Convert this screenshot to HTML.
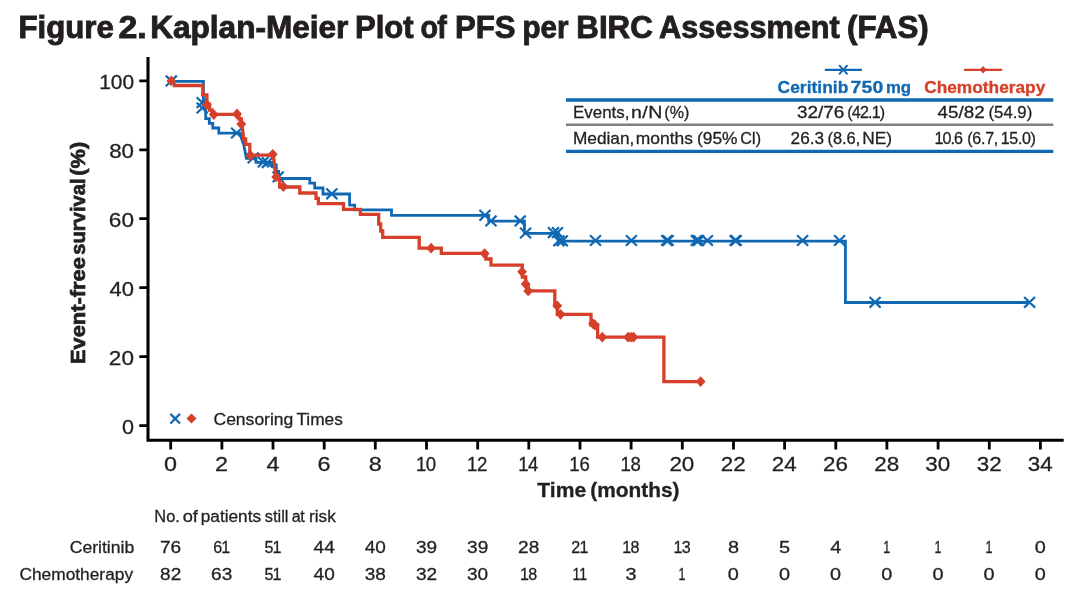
<!DOCTYPE html>
<html lang="en"><head><meta charset="utf-8"><title>Figure 2. Kaplan-Meier Plot of PFS per BIRC Assessment (FAS)</title>
<style>
html,body{margin:0;padding:0;background:#fff;}
body{width:1080px;height:591px;overflow:hidden;}
svg{display:block;font-family:"Liberation Sans", sans-serif;fill:#231f20;}
.r{stroke:#231f20;stroke-width:0.3px;}
</style></head><body>
<svg width="1080" height="591" viewBox="0 0 1080 591">
<rect width="1080" height="591" fill="#fff"/>
<path d="M148.0,57 V440.3 H1063.7" fill="none" stroke="#000" stroke-width="3.1" stroke-linejoin="miter"/>
<path d="M139.3,425.6 H148.0 M139.3,356.6 H148.0 M139.3,287.7 H148.0 M139.3,218.7 H148.0 M139.3,149.8 H148.0 M139.3,80.8 H148.0 M170.7,440.3 V449.6 M221.9,440.3 V449.6 M273.0,440.3 V449.6 M324.2,440.3 V449.6 M375.3,440.3 V449.6 M426.5,440.3 V449.6 M477.7,440.3 V449.6 M528.8,440.3 V449.6 M580.0,440.3 V449.6 M631.1,440.3 V449.6 M682.3,440.3 V449.6 M733.5,440.3 V449.6 M784.6,440.3 V449.6 M835.8,440.3 V449.6 M886.9,440.3 V449.6 M938.1,440.3 V449.6 M989.3,440.3 V449.6 M1040.4,440.3 V449.6" fill="none" stroke="#000" stroke-width="2.8"/>
<path d="M171.3,81.4 H203.4 V105 L205.7,110.3 V118.6 H209.3 V123.3 H212.8 V128 H218.8 V133.1 H240.2 L241.7,139 L243.7,144.4 L246.4,158.3 H256 V162.4 H272 V165 H276.3 V171.5 H278.6 V178.5 H309.8 V183.2 H314.7 V188 H323 V194 H349.6 V205.2 H354.7 V209.9 H391.5 V215.4 H488.7 V221.2 H524.4 V233.4 H558.2 V241.2 H845.4 V302.5 H1029.6" fill="none" stroke="#1068b3" stroke-width="2.8" stroke-linejoin="miter"/>
<path d="M165.8,75.6 L176.8,86.2 M165.8,86.2 L176.8,75.6 M196.7,97.3 L207.7,107.9 M196.7,107.9 L207.7,97.3 M196.7,102.6 L207.7,113.2 M196.7,113.2 L207.7,102.6 M231.1,127.7 L242.1,138.3 M231.1,138.3 L242.1,127.7 M247.7,152.6 L258.7,163.2 M247.7,163.2 L258.7,152.6 M257.8,156.7 L268.8,167.3 M257.8,167.3 L268.8,156.7 M261.9,157.3 L272.9,167.9 M261.9,167.9 L272.9,157.3 M272.7,171.6 L283.7,182.2 M272.7,182.2 L283.7,171.6 M326.3,188.5 L337.3,199.1 M326.3,199.1 L337.3,188.5 M479.5,210.0 L490.5,220.6 M479.5,220.6 L490.5,210.0 M485.5,215.6 L496.5,226.2 M485.5,226.2 L496.5,215.6 M514.7,215.6 L525.7,226.2 M514.7,226.2 L525.7,215.6 M520.1,227.7 L531.1,238.3 M520.1,238.3 L531.1,227.7 M548.0,227.3 L559.0,237.9 M548.0,237.9 L559.0,227.3 M552.0,227.3 L563.0,237.9 M552.0,237.9 L563.0,227.3 M553.4,235.5 L564.4,246.1 M553.4,246.1 L564.4,235.5 M556.8,235.5 L567.8,246.1 M556.8,246.1 L567.8,235.5 M590.0,235.2 L601.0,245.8 M590.0,245.8 L601.0,235.2 M625.9,235.2 L636.9,245.8 M625.9,245.8 L636.9,235.2 M661.2,235.2 L672.2,245.8 M661.2,245.8 L672.2,235.2 M662.6,235.2 L673.6,245.8 M662.6,245.8 L673.6,235.2 M690.8,235.2 L701.8,245.8 M690.8,245.8 L701.8,235.2 M692.0,235.2 L703.0,245.8 M692.0,245.8 L703.0,235.2 M693.2,235.2 L704.2,245.8 M693.2,245.8 L704.2,235.2 M701.9,235.2 L712.9,245.8 M701.9,245.8 L712.9,235.2 M729.6,235.2 L740.6,245.8 M729.6,245.8 L740.6,235.2 M730.7,235.2 L741.7,245.8 M730.7,245.8 L741.7,235.2 M797.1,235.2 L808.1,245.8 M797.1,245.8 L808.1,235.2 M834.1,235.2 L845.1,245.8 M834.1,245.8 L845.1,235.2 M869.6,297.0 L880.6,307.6 M869.6,307.6 L880.6,297.0 M1024.1,297.0 L1035.1,307.6 M1024.1,307.6 L1035.1,297.0" fill="none" stroke="#1068b3" stroke-width="2.2"/>
<path d="M172.8,85.5 H202.8 V94.9 H206.9 V104.5 H209.5 V110 H212 V114.4 H237 H239 V119 H241.3 V124.1 L242.3,126.8 L243.7,139 H245.7 V144.4 H249.8 V155.2 H272.8 L273.5,156.5 L275.5,174.2 L279.6,179.6 V187 H299.8 V193 H316 V198.4 H318.4 V203.6 H343.5 V209.3 H360.4 V214.4 H378.7 V224 H380.7 V231 H382.7 V237.3 H419.2 V248.2 H441.3 V253.4 H486 V259 H491 V265.1 H522.3 V277 H525.7 V286 H528.2 V290.9 H554.8 V305.8 H557.3 V314.4 H591 V325 H597.6 V337.2 H663.9 V381.6 H700.6" fill="none" stroke="#d63f29" stroke-width="3.3" stroke-linejoin="miter"/>
<path d="M171.3,75.5 L176.2,80.9 L171.3,86.3 L166.4,80.9 Z M206.9,99.2 L211.8,104.6 L206.9,110.0 L202.0,104.6 Z M213.8,109.2 L218.7,114.6 L213.8,120.0 L208.9,114.6 Z M237.0,108.6 L241.9,114.0 L237.0,119.4 L232.1,114.0 Z M241.3,118.7 L246.2,124.1 L241.3,129.5 L236.4,124.1 Z M250.5,150.1 L255.4,155.5 L250.5,160.9 L245.6,155.5 Z M272.8,148.9 L277.7,154.3 L272.8,159.7 L267.9,154.3 Z M276.2,171.5 L281.1,176.9 L276.2,182.3 L271.3,176.9 Z M283.4,181.2 L288.3,186.6 L283.4,192.0 L278.5,186.6 Z M431.1,242.8 L436.0,248.2 L431.1,253.6 L426.2,248.2 Z M484.6,248.2 L489.5,253.6 L484.6,259.0 L479.7,253.6 Z M522.1,266.4 L527.0,271.8 L522.1,277.2 L517.2,271.8 Z M525.7,278.6 L530.6,284.0 L525.7,289.4 L520.8,284.0 Z M528.2,285.5 L533.1,290.9 L528.2,296.3 L523.3,290.9 Z M557.3,300.4 L562.2,305.8 L557.3,311.2 L552.4,305.8 Z M560.5,308.9 L565.4,314.3 L560.5,319.7 L555.6,314.3 Z M592.9,318.3 L597.8,323.7 L592.9,329.1 L588.0,323.7 Z M594.9,319.6 L599.8,325.0 L594.9,330.4 L590.0,325.0 Z M602.3,331.8 L607.2,337.2 L602.3,342.6 L597.4,337.2 Z M628.1,331.8 L633.0,337.2 L628.1,342.6 L623.2,337.2 Z M630.8,331.8 L635.7,337.2 L630.8,342.6 L625.9,337.2 Z M633.5,331.8 L638.4,337.2 L633.5,342.6 L628.6,337.2 Z M700.6,376.2 L705.5,381.6 L700.6,387.0 L695.7,381.6 Z" fill="#d63f29" stroke="none"/>
<path d="M170.4,413.9 L180.0,423.5 M170.4,423.5 L180.0,413.9" fill="none" stroke="#1068b3" stroke-width="2.2"/>
<path d="M191.5,413.5 L196.5,418.5 L191.5,423.5 L186.5,418.5 Z" fill="#d63f29"/>
<path d="M566,100 H1053.3 M566,151.4 H1053.3" stroke="#1068b3" stroke-width="3.3" fill="none"/>
<path d="M566,124.7 H1053.3" stroke="#808080" stroke-width="2.6" fill="none"/>
<path d="M824.8,69.8 H861.9" stroke="#1068b3" stroke-width="2.2" fill="none"/>
<path d="M839.1,65.2 L847.5,74.4 M839.1,74.4 L847.5,65.2" stroke="#1068b3" stroke-width="2" fill="none"/>
<path d="M964.1,69.8 H1002.2" stroke="#d63f29" stroke-width="2.2" fill="none"/>
<path d="M983.1,66.1 L986.6,69.8 L983.1,73.5 L979.6,69.8 Z" fill="#d63f29"/>
<text transform="translate(18.45,38.0) scale(1.014,1)" font-size="30.8" font-weight="bold" stroke="#231f20" stroke-width="0.9">Figure</text>
<text transform="translate(118.54,38.0) scale(1.100,1)" font-size="30.8" font-weight="bold" stroke="#231f20" stroke-width="0.9">2.</text>
<text transform="translate(150.23,38.0) scale(1.025,1)" font-size="30.8" font-weight="bold" stroke="#231f20" stroke-width="0.9">Kaplan-Meier</text>
<text transform="translate(354.96,38.0) scale(1.009,1)" font-size="30.8" font-weight="bold" stroke="#231f20" stroke-width="0.9">Plot</text>
<text transform="translate(420.50,38.0) scale(0.930,1)" font-size="30.8" font-weight="bold" letter-spacing="-0.80" stroke="#231f20" stroke-width="0.9">of</text>
<text transform="translate(455.05,38.0) scale(1.011,1)" font-size="30.8" font-weight="bold" stroke="#231f20" stroke-width="0.9">PFS</text>
<text transform="translate(522.45,38.0) scale(0.961,1)" font-size="30.8" font-weight="bold" stroke="#231f20" stroke-width="0.9">per</text>
<text transform="translate(576.35,38.0) scale(1.015,1)" font-size="30.8" font-weight="bold" stroke="#231f20" stroke-width="0.9">BIRC</text>
<text transform="translate(659.12,38.0) scale(0.996,1)" font-size="30.8" font-weight="bold" stroke="#231f20" stroke-width="0.9">Assessment</text>
<text transform="translate(847.03,38.0) scale(1.017,1)" font-size="30.8" font-weight="bold" stroke="#231f20" stroke-width="0.9">(FAS)</text>
<text transform="translate(122.03,434.1) scale(1.080,1)" font-size="20" class="r">0</text>
<text transform="translate(108.84,365.14000000000004) scale(1.130,1)" font-size="20" letter-spacing="0.07" class="r">20</text>
<text transform="translate(109.56,296.18000000000006) scale(1.101,1)" font-size="20" class="r">40</text>
<text transform="translate(108.84,227.22000000000003) scale(1.130,1)" font-size="20" letter-spacing="0.07" class="r">60</text>
<text transform="translate(109.20,158.26000000000005) scale(1.117,1)" font-size="20" class="r">80</text>
<text transform="translate(99.15,89.30000000000001) scale(1.045,1)" font-size="20" class="r">100</text>
<text transform="translate(163.92,471.2) scale(1.170,1)" font-size="20" class="r">0</text>
<text transform="translate(215.08,471.2) scale(1.170,1)" font-size="20" class="r">2</text>
<text transform="translate(266.42,471.2) scale(1.170,1)" font-size="20" class="r">4</text>
<text transform="translate(317.40,471.2) scale(1.170,1)" font-size="20" class="r">6</text>
<text transform="translate(368.74,471.2) scale(1.170,1)" font-size="20" class="r">8</text>
<text transform="translate(415.89,471.2) scale(0.930,1)" font-size="20" letter-spacing="-0.61" class="r">10</text>
<text transform="translate(467.05,471.2) scale(0.930,1)" font-size="20" letter-spacing="-0.29" class="r">12</text>
<text transform="translate(518.21,471.2) scale(0.930,1)" font-size="20" letter-spacing="-0.61" class="r">14</text>
<text transform="translate(569.37,471.2) scale(0.930,1)" font-size="20" letter-spacing="-0.29" class="r">16</text>
<text transform="translate(620.53,471.2) scale(0.930,1)" font-size="20" letter-spacing="-0.29" class="r">18</text>
<text transform="translate(669.40,471.2) scale(1.120,1)" font-size="20" class="r">20</text>
<text transform="translate(720.73,471.2) scale(1.120,1)" font-size="20" class="r">22</text>
<text transform="translate(771.72,471.2) scale(1.120,1)" font-size="20" class="r">24</text>
<text transform="translate(823.05,471.2) scale(1.120,1)" font-size="20" class="r">26</text>
<text transform="translate(874.21,471.2) scale(1.120,1)" font-size="20" class="r">28</text>
<text transform="translate(925.37,471.2) scale(1.120,1)" font-size="20" class="r">30</text>
<text transform="translate(976.71,471.2) scale(1.120,1)" font-size="20" class="r">32</text>
<text transform="translate(1027.69,471.2) scale(1.120,1)" font-size="20" class="r">34</text>
<text transform="translate(537.30,497) scale(1.081,1)" font-size="19.5" font-weight="bold" stroke="#231f20" stroke-width="0.3">Time</text>
<text transform="translate(590.32,497) scale(1.071,1)" font-size="19.5" font-weight="bold" stroke="#231f20" stroke-width="0.3">(months)</text>
<text transform="translate(84.9,364.07) rotate(-90) scale(1.121,1)" font-size="19.5" font-weight="bold" stroke="#231f20" stroke-width="0.7">Event-free</text>
<text transform="translate(84.9,254.63) rotate(-90) scale(1.033,1)" font-size="19.5" font-weight="bold" stroke="#231f20" stroke-width="0.7">survival</text>
<text transform="translate(84.9,175.72) rotate(-90) scale(1.118,1)" font-size="19.5" font-weight="bold" stroke="#231f20" stroke-width="0.7">(%)</text>
<text transform="translate(213.48,425.4) scale(1.013,1)" font-size="17.3" class="r">Censoring</text>
<text transform="translate(296.43,425.4) scale(1.001,1)" font-size="17.3" class="r">Times</text>
<text transform="translate(777.55,93.2) scale(1.015,1)" font-size="17.2" font-weight="bold" fill="#1068b3" stroke="#1068b3" stroke-width="0.3">Ceritinib</text>
<text transform="translate(850.59,93.2) scale(1.130,1)" font-size="17.2" font-weight="bold" fill="#1068b3" letter-spacing="0.16" stroke="#1068b3" stroke-width="0.3">750</text>
<text transform="translate(885.95,93.2) scale(0.974,1)" font-size="17.2" font-weight="bold" fill="#1068b3" stroke="#1068b3" stroke-width="0.3">mg</text>
<text transform="translate(924.16,93.2) scale(1.006,1)" font-size="17.2" font-weight="bold" fill="#d63f29" stroke="#d63f29" stroke-width="0.3">Chemotherapy</text>
<text transform="translate(572.98,118.3) scale(0.979,1)" font-size="17.3" class="r">Events,</text>
<text transform="translate(630.88,118.3) scale(1.130,1)" font-size="17.3" letter-spacing="0.44" class="r">n/N</text>
<text transform="translate(664.35,118.3) scale(0.930,1)" font-size="17.3" letter-spacing="-0.02" class="r">(%)</text>
<text transform="translate(796.91,118.3) scale(1.094,1)" font-size="17.3" class="r">32/76</text>
<text transform="translate(847.35,118.3) scale(0.930,1)" font-size="17.3" letter-spacing="-0.89" class="r">(42.1)</text>
<text transform="translate(937.61,118.3) scale(1.087,1)" font-size="17.3" class="r">45/82</text>
<text transform="translate(988.51,118.3) scale(0.968,1)" font-size="17.3" class="r">(54.9)</text>
<text transform="translate(572.95,143.6) scale(0.998,1)" font-size="17.3" class="r">Median,</text>
<text transform="translate(635.81,143.6) scale(1.007,1)" font-size="17.3" class="r">months</text>
<text transform="translate(696.98,143.6) scale(1.006,1)" font-size="17.3" class="r">(95%</text>
<text transform="translate(740.25,143.6) scale(0.930,1)" font-size="17.3" letter-spacing="-0.25" class="r">CI)</text>
<text transform="translate(790.59,143.6) scale(0.995,1)" font-size="17.3" class="r">26.3</text>
<text transform="translate(827.43,143.6) scale(0.950,1)" font-size="17.3" class="r">(8.6,</text>
<text transform="translate(862.25,143.6) scale(1.002,1)" font-size="17.3" class="r">NE)</text>
<text transform="translate(934.59,143.6) scale(0.930,1)" font-size="17.3" letter-spacing="-1.02" class="r">10.6</text>
<text transform="translate(967.25,143.6) scale(0.930,1)" font-size="17.3" letter-spacing="-0.31" class="r">(6.7,</text>
<text transform="translate(1000.79,143.6) scale(0.930,1)" font-size="17.3" letter-spacing="-0.39" class="r">15.0)</text>
<text transform="translate(154.32,522.1) scale(0.946,1)" font-size="17.3" class="r">No.</text>
<text transform="translate(182.63,522.1) scale(1.054,1)" font-size="17.3" class="r">of</text>
<text transform="translate(200.72,522.1) scale(0.997,1)" font-size="17.3" class="r">patients</text>
<text transform="translate(264.74,522.1) scale(0.950,1)" font-size="17.3" class="r">still</text>
<text transform="translate(291.70,522.1) scale(0.930,1)" font-size="17.3" letter-spacing="-0.29" class="r">at</text>
<text transform="translate(309.03,522.1) scale(0.993,1)" font-size="17.3" class="r">risk</text>
<text transform="translate(69.67,553.1) scale(1.019,1)" font-size="17.3" class="r">Ceritinib</text>
<text transform="translate(19.49,580.0) scale(1.002,1)" font-size="17.3" class="r">Chemotherapy</text>
<text transform="translate(159.96,553.1) scale(1.100,1)" font-size="17.3" class="r">76</text>
<text transform="translate(160.10,580.0) scale(1.100,1)" font-size="17.3" class="r">82</text>
<text transform="translate(213.21,553.1) scale(0.930,1)" font-size="17.3" letter-spacing="-0.96" class="r">61</text>
<text transform="translate(211.12,580.0) scale(1.100,1)" font-size="17.3" class="r">63</text>
<text transform="translate(264.62,553.1) scale(0.930,1)" font-size="17.3" letter-spacing="-1.23" class="r">51</text>
<text transform="translate(264.62,580.0) scale(0.930,1)" font-size="17.3" letter-spacing="-1.23" class="r">51</text>
<text transform="translate(313.58,553.1) scale(1.100,1)" font-size="17.3" class="r">44</text>
<text transform="translate(313.58,580.0) scale(1.100,1)" font-size="17.3" class="r">40</text>
<text transform="translate(364.74,553.1) scale(1.100,1)" font-size="17.3" class="r">40</text>
<text transform="translate(364.74,580.0) scale(1.100,1)" font-size="17.3" class="r">38</text>
<text transform="translate(415.90,553.1) scale(1.100,1)" font-size="17.3" class="r">39</text>
<text transform="translate(415.90,580.0) scale(1.100,1)" font-size="17.3" class="r">32</text>
<text transform="translate(467.06,553.1) scale(1.100,1)" font-size="17.3" class="r">39</text>
<text transform="translate(466.92,580.0) scale(1.100,1)" font-size="17.3" class="r">30</text>
<text transform="translate(518.08,553.1) scale(1.100,1)" font-size="17.3" class="r">28</text>
<text transform="translate(519.91,580.0) scale(0.930,1)" font-size="17.3" letter-spacing="-0.69" class="r">18</text>
<text transform="translate(571.33,553.1) scale(0.930,1)" font-size="17.3" letter-spacing="-0.96" class="r">21</text>
<text transform="translate(572.40,580.0) scale(0.816,1)" font-size="17.3" class="r">11</text>
<text transform="translate(622.23,553.1) scale(0.930,1)" font-size="17.3" letter-spacing="-0.69" class="r">18</text>
<text transform="translate(625.60,580.0) scale(1.150,1)" font-size="17.3" class="r">3</text>
<text transform="translate(673.39,553.1) scale(0.930,1)" font-size="17.3" letter-spacing="-0.69" class="r">13</text>
<text transform="translate(678.60,580.0) scale(0.720,1)" font-size="17.3" class="r">1</text>
<text transform="translate(727.92,553.1) scale(1.150,1)" font-size="17.3" class="r">8</text>
<text transform="translate(727.77,580.0) scale(1.150,1)" font-size="17.3" class="r">0</text>
<text transform="translate(779.08,553.1) scale(1.150,1)" font-size="17.3" class="r">5</text>
<text transform="translate(778.93,580.0) scale(1.150,1)" font-size="17.3" class="r">0</text>
<text transform="translate(830.24,553.1) scale(1.149,1)" font-size="17.3" class="r">4</text>
<text transform="translate(830.09,580.0) scale(1.150,1)" font-size="17.3" class="r">0</text>
<text transform="translate(883.24,553.1) scale(0.720,1)" font-size="17.3" class="r">1</text>
<text transform="translate(881.25,580.0) scale(1.150,1)" font-size="17.3" class="r">0</text>
<text transform="translate(934.40,553.1) scale(0.720,1)" font-size="17.3" class="r">1</text>
<text transform="translate(932.41,580.0) scale(1.150,1)" font-size="17.3" class="r">0</text>
<text transform="translate(985.56,553.1) scale(0.720,1)" font-size="17.3" class="r">1</text>
<text transform="translate(983.57,580.0) scale(1.150,1)" font-size="17.3" class="r">0</text>
<text transform="translate(1034.73,553.1) scale(1.149,1)" font-size="17.3" class="r">0</text>
<text transform="translate(1034.73,580.0) scale(1.149,1)" font-size="17.3" class="r">0</text>
</svg>
</body></html>
